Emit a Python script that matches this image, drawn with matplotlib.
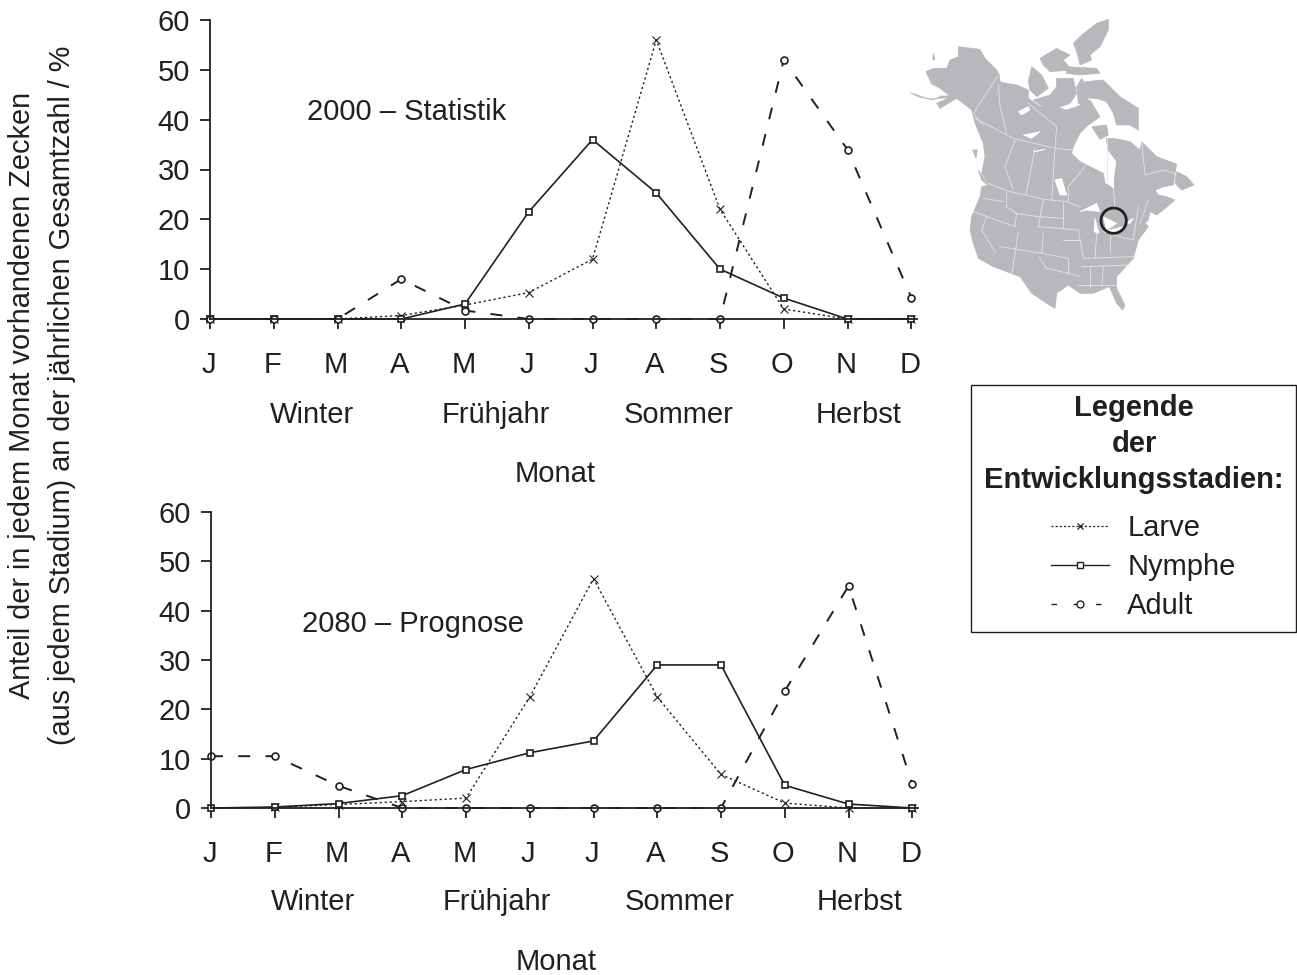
import numpy as np
import matplotlib
matplotlib.use("Agg")
import matplotlib.pyplot as plt
from matplotlib.lines import Line2D
from matplotlib.patches import Polygon, Circle, Rectangle
from matplotlib.transforms import ScaledTranslation

plt.rcParams['font.family'] = ['Liberation Sans', 'DejaVu Sans']
plt.rcParams['lines.scale_dashes'] = False

INK = '#231f20'
FS = 21

# --- DATA ---
months = ['J', 'F', 'M', 'A', 'M', 'J', 'J', 'A', 'S', 'O', 'N', 'D']
seasons = ['Winter', 'Frühjahr', 'Sommer', 'Herbst']
y_ticks = [0, 10, 20, 30, 40, 50, 60]

larve_2000 = [0, 0, 0, 0.7, 2.8, 5.3, 12, 56, 22, 2, 0, 0]
nymphe_2000 = [0, 0, 0, 0, 3, 21.5, 36, 25.3, 10, 4.2, 0, 0]
adult_2000 = [0, 0, 0, 8, 1.7, 0, 0, 0, 0, 52, 34, 4.3]

larve_2080 = [None, 0.2, 0.7, 1.3, 2, 22.5, 46.5, 22.5, 6.8, 1, 0, 0]
nymphe_2080 = [0, 0.2, 0.9, 2.5, 7.8, 11.2, 13.6, 29, 29, 4.6, 0.8, 0]
adult_2080 = [10.5, 10.5, 4.5, 0, 0, 0, 0, 0, 0, 23.7, 45, 4.8]

# map outline, traced by hand (crop coordinates)
mainland = [(30,248),(60,262),(100,268),(125,258),(150,258),(120,235),(95,222),(78,185),(100,175),(140,175),
            (150,150),(175,140),(175,110),(240,118),(255,145),(290,180),(298,195),(300,215),(320,220),
            (350,225),(385,240),(385,265),(420,290),(450,285),(500,300),(530,290),(570,270),(600,320),
            (580,335),(565,345),(540,370),(520,410),(515,430),(540,455),(560,465),(610,490),(615,520),
            (640,535),(645,490),(650,455),(625,420),(618,385),(640,385),(690,395),(720,420),(725,395),
            (770,440),(830,462),(825,490),(820,525),(790,530),(745,550),(765,540),(775,555),(800,560),
            (825,570),(790,600),(770,615),(750,605),(745,630),(735,640),(745,650),(715,690),(700,745),
            (650,800),(650,835),(675,885),(668,900),(650,880),(628,830),(580,850),(540,850),(505,825),
            (470,850),(465,895),(440,880),(395,850),(360,800),(280,770),(235,745),(220,700),(210,660),
            (215,620),(240,560),(245,530),(265,525),(245,490),(255,440),(250,400),(225,340),(215,300),
            (170,265),(120,295),(110,280),(150,262),(90,268)]
islands = [
    [(545,75),(590,40),(625,28),(625,60),(600,110),(570,135),(575,150),(540,165),(530,125),(520,100)],
    [(500,170),(590,175),(600,190),(540,195),(500,190)],
    [(420,145),(470,115),(510,135),(490,150),(515,180),(450,185),(430,165)],
    [(385,215),(395,170),(425,195),(445,235),(410,260),(390,240)],
    [(470,205),(520,205),(530,250),(510,280),(470,295),(420,285),(400,270),(450,255),(470,230)],
    [(545,205),(570,245),(560,285),(535,280),(530,230)],
    [(555,215),(610,210),(660,260),(715,295),(715,360),(690,345),(650,345),(640,310),(620,275),(590,265),(570,265)],
    [(575,350),(620,345),(625,375),(600,388)],
    [(825,520),(830,485),(860,500),(882,525),(845,540)],
    [(235,480),(262,525),(245,510)],
    [(218,420),(232,420),(228,445)],
    [(100,130),(105,150),(98,150)],
]
lakes = [
    [(355,305),(385,290),(390,300),(365,315)],
    [(370,375),(420,365),(395,385)],
    [(400,425),(435,418),(405,425)],
    [(465,510),(485,505),(500,555),(480,555)],
    [(540,605),(590,580),(600,605),(560,600)],
    [(585,625),(597,670),(582,665)],
    [(610,620),(650,640),(620,660)],
    [(610,665),(670,650),(640,672)],
    [(675,640),(700,625),(690,640)],
    [(620,510),(640,510),(640,535)],
]
borders = [
    [(295,195),(220,310),(250,345)],
    [(265,520),(320,542),(430,568),(500,575),(540,590)],
    [(225,325),(340,385),(465,415),(520,420)],
    [(345,390),(315,470),(340,540)],
    [(405,415),(378,555)],
    [(465,415),(455,570)],
    [(555,470),(505,530),(505,575)],
    [(295,225),(300,290),(320,370)],
    [(385,280),(470,350),(465,415)],
    [(640,535),(645,590)],
    [(620,385),(620,520)],
    [(725,395),(735,495),(790,480),(825,490)],
    [(220,605),(290,630),(345,650)],
    [(260,620),(245,660),(285,725)],
    [(250,565),(310,575)],
    [(320,545),(320,590),(350,610),(345,650)],
    [(345,610),(415,620),(490,625)],
    [(430,570),(415,650),(535,660)],
    [(490,575),(490,650)],
    [(300,710),(425,730),(505,745)],
    [(355,668),(335,795)],
    [(430,668),(425,730)],
    [(415,740),(440,775),(505,790),(540,800)],
    [(505,745),(505,790)],
    [(550,745),(705,740)],
    [(545,770),(690,765)],
    [(570,770),(570,830)],
    [(610,770),(605,830)],
    [(535,825),(650,825)],
    [(535,660),(550,745)],
    [(590,670),(585,745)],
    [(630,675),(630,725)],
    [(640,675),(700,690)],
    [(715,590),(700,690)],
    [(745,570),(720,640)],
    [(490,690),(540,690)],
]


def draw_panel(ax, larve, nymphe, adult, label, label_x, label_y, season_y, monat_y):
    x = np.arange(len(months))
    larve = np.array(larve, dtype=float)
    ax.plot(x, larve, color=INK, lw=1.0, ls=(0, (1.6, 2.0)), marker='x', ms=6, mew=0.8, clip_on=False)
    ax.plot(x, nymphe, color=INK, lw=1.2, marker='s', ms=5, mew=1.2, mfc='white', clip_on=False)
    ax.plot(x, adult, color=INK, lw=1.4, ls=(0, (8.6, 11)), marker='o', ms=5, mew=1.2, mfc='white', clip_on=False)

    ax.set_xlim(0, 11.09)
    ax.set_ylim(0, 60)
    ax.set_xticks(x)
    ax.set_xticklabels(months)
    ax.set_yticks(y_ticks)
    ax.tick_params(axis='both', labelsize=FS, length=7.5, width=1.3, color=INK, labelcolor=INK)
    ax.tick_params(axis='x', pad=15.5)
    ax.tick_params(axis='y', pad=7)
    # month letters sit a little left of their ticks in the original
    shift = ScaledTranslation(-1.5 / 100, 0, fig.dpi_scale_trans)
    for tl in ax.get_xticklabels():
        tl.set_transform(tl.get_transform() + shift)
    for side in ['top', 'right']:
        ax.spines[side].set_visible(False)
    for side in ['left', 'bottom']:
        ax.spines[side].set_linewidth(1.3)
        ax.spines[side].set_color(INK)

    trans = ax.get_xaxis_transform()
    for name, pos in zip(seasons, [1.6, 4.49, 7.35, 10.17]):
        ax.text(pos, season_y, name, transform=trans, ha='center', va='center', fontsize=FS, color=INK)
    ax.text(5.42, monat_y, 'Monat', transform=trans, ha='center', va='center', fontsize=FS, color=INK)
    ax.text(label_x, label_y, label, ha='center', va='center', fontsize=FS, color=INK)


fig = plt.figure(figsize=(12.97, 9.75), dpi=100)
W, H = 1297, 975

ax1 = fig.add_axes([210 / W, 1 - 319 / H, 707 / W, 299 / H])
ax2 = fig.add_axes([211 / W, 1 - 808 / H, 707 / W, 296 / H])
draw_panel(ax1, larve_2000, nymphe_2000, adult_2000, '2000 – Statistik', 3.09, 41.6, -0.322, -0.52)
draw_panel(ax2, larve_2080, nymphe_2080, adult_2080, '2080 – Prognose', 3.17, 37.3, -0.318, -0.521)

fig.text(42 / W, 1 - 395 / H, 'Anteil der in jedem Monat vorhandenen Zecken\n(aus jedem Stadium) an der jährlichen Gesamtzahl / %',
         rotation=90, ha='center', va='center', ma='center', fontsize=20.8, color=INK, linespacing=1.55)

# --- MAP ---
m = fig.add_axes([900 / W, 1 - 320 / H, 300 / W, 310 / H])
grey = '#b6b8bb'
m.add_patch(Polygon(mainland, closed=True, fc=grey, ec=grey, lw=0.5))
for isl in islands:
    m.add_patch(Polygon(isl, closed=True, fc=grey, ec=grey, lw=0.5))
for b in borders:
    xs, ys = zip(*b)
    m.plot(xs, ys, color='#e4e5e6', lw=0.6)
for lake in lakes:
    m.add_patch(Polygon(lake, closed=True, fc='white', ec='white', lw=0.5))
m.add_patch(Circle((641, 632), 38, fc='none', ec=INK, lw=2.0))
m.set_xlim(0, 900)
m.set_ylim(930, 0)
m.axis('off')

# --- LEGEND ---
fig.add_artist(Rectangle((971 / W, 1 - 632 / H), 325 / W, 247 / H, transform=fig.transFigure,
                         fc='white', ec=INK, lw=1.0))
fig.text(1134 / W, 1 - 444 / H, 'Legende\nder\nEntwicklungsstadien:', ha='center', va='center', ma='center',
         fontsize=FS, fontweight='bold', color=INK, linespacing=1.35)
handles = [
    Line2D([], [], color=INK, lw=0.9, ls=(0, (1.5, 1.5)), marker='x', ms=5, mew=0.9),
    Line2D([], [], color=INK, lw=1.0, marker='s', ms=5, mew=1.0, mfc='white'),
    Line2D([], [], color=INK, lw=1.0, ls=(0, (4, 12)), marker='o', ms=5, mew=1.0, mfc='white'),
]
leg = fig.legend(handles, ['Larve', 'Nymphe', 'Adult'], loc='upper left',
                 bbox_to_anchor=(1051 / W, 1 - 514 / H), bbox_transform=fig.transFigure,
                 fontsize=FS, numpoints=1, handlelength=2.0, handletextpad=0.62, labelspacing=0.38,
                 borderpad=0, borderaxespad=0, frameon=False)
for t in leg.get_texts():
    t.set_color(INK)

fig.savefig('out.png', dpi=100)
